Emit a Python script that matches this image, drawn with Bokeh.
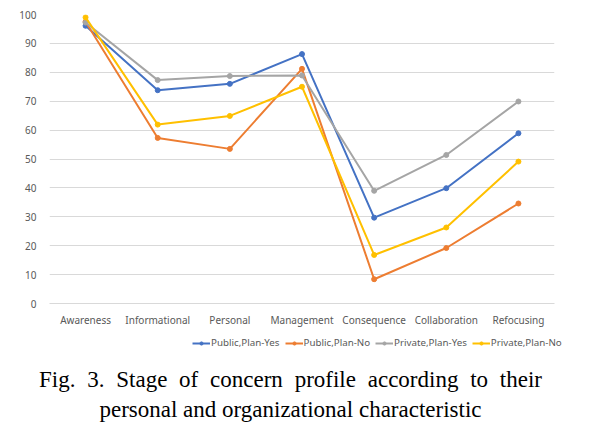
from bokeh.plotting import figure
from bokeh.models import FactorRange, Range1d, Legend, LegendItem, Div, FixedTicker, ColumnDataSource
from bokeh.layouts import column
from bokeh.embed import file_html
from bokeh.resources import INLINE

stages = ["Awareness", "Informational", "Personal", "Management", "Consequence", "Collaboration", "Refocusing"]
public_yes = [96.1, 73.8, 76.0, 86.3, 29.7, 39.9, 58.9]
public_no = [97.5, 57.3, 53.5, 81.2, 8.4, 19.2, 34.6]
private_yes = [97.2, 77.3, 78.7, 78.9, 39.0, 51.4, 69.9]
private_no = [99.0, 61.9, 64.9, 75.0, 16.8, 26.3, 49.1]
series_names = ["Public,Plan-Yes", "Public,Plan-No", "Private,Plan-Yes", "Private,Plan-No"]
colors = ["#4472C4", "#ED7D31", "#A5A5A5", "#FFC000"]
y_ticks = list(range(0, 101, 10))

p = figure(x_range=FactorRange(*stages, range_padding=0), y_range=Range1d(0, 100),
           frame_width=505, frame_height=289, output_backend="svg", toolbar_location=None,
           min_border_left=49, min_border_right=30, min_border_top=14, min_border_bottom=30)
p.outline_line_color = None

# legend-only strip below the chart, sharing the same series sources
leg_fig = figure(x_range=FactorRange(*stages), y_range=Range1d(1000, 1001),
                 frame_width=584, frame_height=20, output_backend="svg", toolbar_location=None,
                 min_border_left=0, min_border_right=0, min_border_top=0, min_border_bottom=0)
leg_fig.axis.visible = False
leg_fig.grid.visible = False
leg_fig.outline_line_color = None

items = []
for name, vals, c in zip(series_names, [public_yes, public_no, private_yes, private_no], colors):
    src = ColumnDataSource(dict(x=stages, y=vals))
    p.line("x", "y", source=src, line_color=c, line_width=2)
    p.scatter("x", "y", source=src, size=5, fill_color=c, line_color=c)
    l1 = leg_fig.line("x", "y", source=src, line_color=c, line_width=2)
    l2 = leg_fig.scatter("x", "y", source=src, size=4, fill_color=c, line_color=c)
    items.append(LegendItem(label=name, renderers=[l1, l2]))

p.yaxis.ticker = FixedTicker(ticks=y_ticks)
p.yaxis.axis_line_color = None
p.yaxis.major_tick_line_color = None
p.yaxis.minor_tick_line_color = None
p.yaxis.major_label_text_font = "Noto Sans"
p.yaxis.major_label_text_font_size = "10px"
p.yaxis.major_label_text_color = "#595959"
p.yaxis.major_label_standoff = 7

p.xaxis.axis_line_color = "#D9D9D9"
p.xaxis.major_tick_line_color = None
p.xaxis.minor_tick_line_color = None
p.xaxis.major_label_text_font = "Noto Sans"
p.xaxis.major_label_text_font_size = "10px"
p.xaxis.major_label_text_color = "#595959"
p.xaxis.major_label_standoff = 3

p.xgrid.grid_line_color = None
p.ygrid.grid_line_color = "#D9D9D9"
p.ygrid.ticker = FixedTicker(ticks=y_ticks)

legend = Legend(items=items, orientation="horizontal", location=(192, 4),
                label_text_font="Noto Sans", label_text_font_size="9.75px", label_text_color="#595959",
                glyph_width=18, glyph_height=8, label_height=12, spacing=5, label_standoff=1,
                padding=0, margin=0, border_line_color=None, background_fill_alpha=0)
leg_fig.add_layout(legend)

caption = Div(text=("<div style=\"width:503px;margin-left:34px;margin-top:7px;text-align:justify;text-align-last:center;"
                    "font-family:'Liberation Serif';font-size:23px;line-height:30px;color:#000\">"
                    "Fig. 3. Stage of concern profile according to their personal and organizational characteristic"
                    "</div>"), width=580, height=70)

layout = column(p, leg_fig, caption, spacing=0)
open("out.html", "w").write(file_html(layout, INLINE))
